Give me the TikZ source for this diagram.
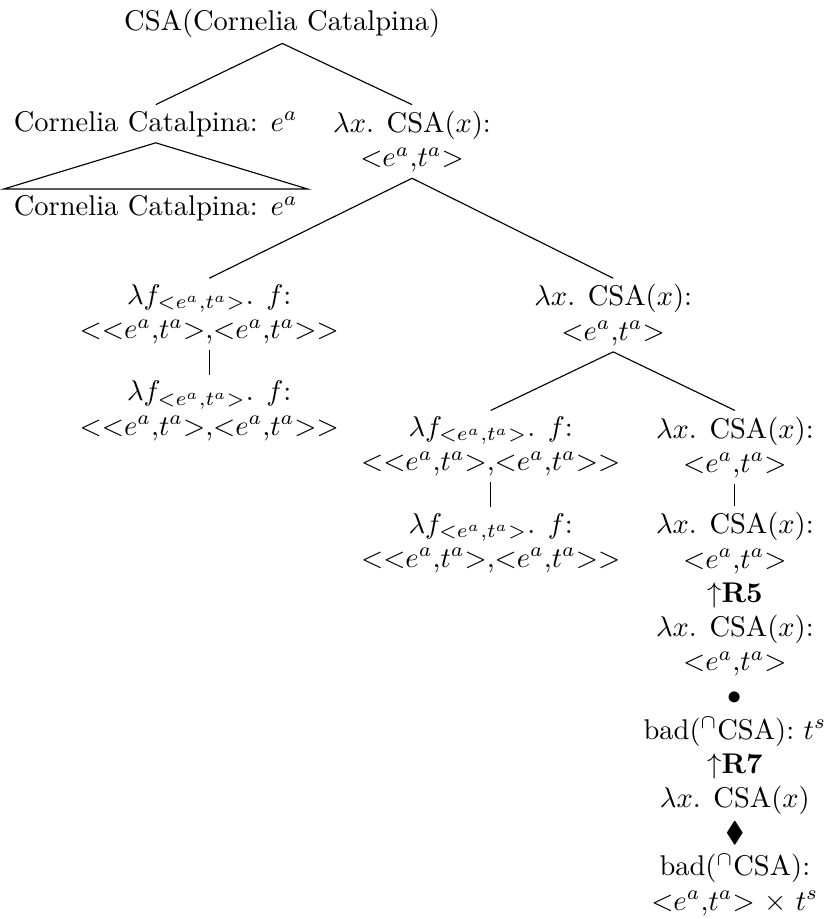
\documentclass[tikz,border=0pt]{standalone}
\usepackage{amssymb}
\newcommand{\eat}{$<$$e^a$,$t^a$$>$}
\newcommand{\lamf}{$\lambda f_{<e^a,t^a>}$. $f$:}
\begin{document}
\begin{tikzpicture}[x=1cm,y=1cm,
  tnode/.style={anchor=north,align=center,inner xsep=3.33pt,inner ysep=2pt,
    font=\fontsize{10}{12}\selectfont}]
\useasboundingbox (0,0) rectangle (10.21,-11.33);

\node[tnode,anchor=base] (root) at (3.48,-0.37) {CSA(Cornelia Catalpina)};
\node[tnode] (cc) at (1.92,-1.29) {Cornelia Catalpina: $e^a$};
\node[tnode] (lxa) at (5.08,-1.29) {$\lambda x$. CSA($x$):\\ \eat};
\node[tnode] (ccleaf) at (1.92,-2.33) {Cornelia Catalpina: $e^a$};

\node[tnode] (lf1) at (2.58,-3.43) {\lamf\\ $<$\eat,\eat$>$};
\node[tnode] (lx2) at (7.56,-3.43) {$\lambda x$. CSA($x$):\\ \eat};
\node[tnode] (lf1b) at (2.58,-4.62) {\lamf\\ $<$\eat,\eat$>$};

\node[tnode] (lf3) at (6.05,-5.06) {\lamf\\ $<$\eat,\eat$>$};
\node[tnode] (lx3) at (9.06,-5.06) {$\lambda x$. CSA($x$):\\ \eat};
\node[tnode] (lf3b) at (6.05,-6.25) {\lamf\\ $<$\eat,\eat$>$};
\node[tnode] (rules) at (9.06,-6.24) {$\lambda x$. CSA($x$):\\ \eat\\
  $\uparrow$\textbf{R5}\\ $\lambda x$. CSA($x$):\\ \eat\\ $\bullet$\\
  bad($^\cap$CSA): $t^s$\\ $\uparrow$\textbf{R7}\\ $\lambda x$. CSA($x$)\\
  $\blacklozenge$\\ bad($^\cap$CSA):\\ \eat{} $\times$ $t^s$};

\draw (root.south) -- (cc.north);
\draw (root.south) -- (lxa.north);
\draw (cc.south) -- (ccleaf.north west) -- (ccleaf.north east) -- cycle;
\draw (lxa.south) -- (lf1.north);
\draw (lxa.south) -- (lx2.north);
\draw (lf1.south) -- (lf1b.north);
\draw (lx2.south) -- (lf3.north);
\draw (lx2.south) -- (lx3.north);
\draw (lf3.south) -- (lf3b.north);
\draw (lx3.south) -- (rules.north);
\end{tikzpicture}
\end{document}
